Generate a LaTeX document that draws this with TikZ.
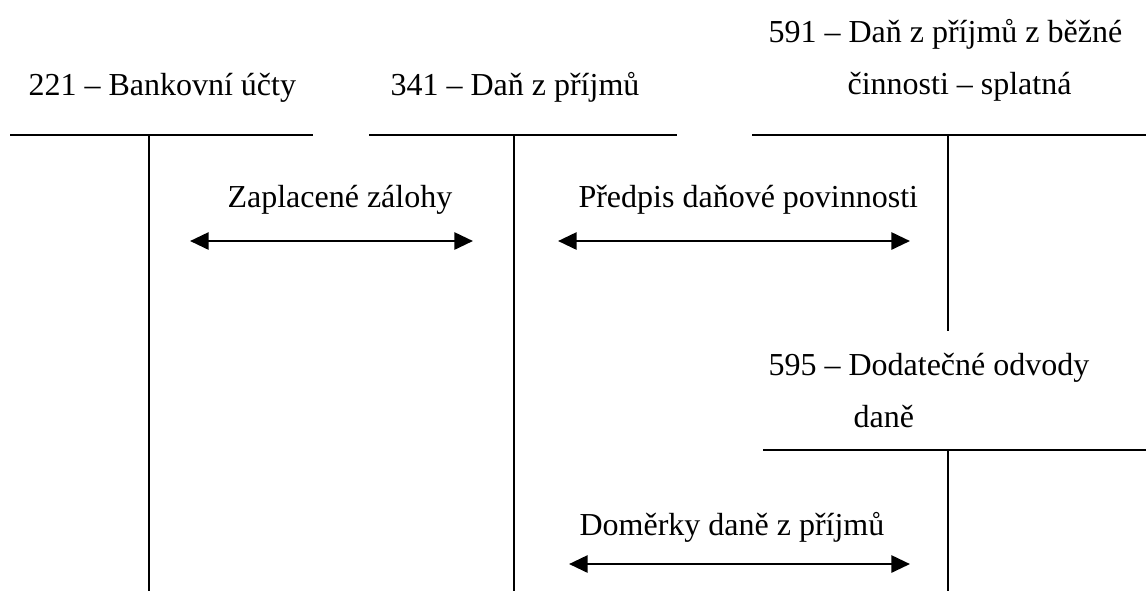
\documentclass[tikz,border=0pt]{standalone}
\usepackage{fontspec}
\setmainfont{Liberation Serif}
\usetikzlibrary{arrows.meta}
\tikzset{
    every node/.style={ % popisky sazene od uchytu na uctarni
        inner sep=0pt,
        anchor=base west,
        font=\fontsize{12}{14}\selectfont
    },
    ucet/.style={ % cary T-uctu
        line width=0.75pt
    },
    pohyb/.style={ % obousmerna sipka mezi ucty
        line width=1pt,
        {Triangle[length=7pt,width=6.4pt]}-{Triangle[length=7pt,width=6.4pt]}
    }
}

\begin{document}
\begin{tikzpicture}[x=0.375pt, y=-0.375pt]
        \useasboundingbox (0,0) rectangle (1146,591);
        % ucet 221
        \node (u221)  at (28,95)   {221 – Bankovní účty};
        \coordinate (u221l) at (10,135);
        \coordinate (u221r) at (313,135);
        \coordinate (u221h) at (149,135);
        \coordinate (u221d) at (149,591);
        % ucet 341
        \node (u341)  at (390,95)  {341 – Daň z příjmů};
        \coordinate (u341l) at (369,135);
        \coordinate (u341r) at (677,135);
        \coordinate (u341h) at (514,135);
        \coordinate (u341d) at (514,591);
        % ucet 591
        \node (u591a) at (768,42)  {591 – Daň z příjmů z běžné};
        \node (u591b) at (847,94)  {činnosti – splatná};
        \coordinate (u591l) at (752,135);
        \coordinate (u591r) at (1146,135);
        \coordinate (u591h) at (948,135);
        \coordinate (u591d) at (948,331);
        % ucet 595
        \node (u595a) at (768,375) {595 – Dodatečné odvody};
        \node (u595b) at (853,427) {daně};
        \coordinate (u595l) at (763,450);
        \coordinate (u595r) at (1146,450);
        \coordinate (u595h) at (948,450);
        \coordinate (u595d) at (948,591);

        \draw[ucet] (u221l) -- (u221r)  (u221h) -- (u221d);
        \draw[ucet] (u341l) -- (u341r)  (u341h) -- (u341d);
        \draw[ucet] (u591l) -- (u591r)  (u591h) -- (u591d);
        \draw[ucet] (u595l) -- (u595r)  (u595h) -- (u595d);

        % pohyby
        \node (zal)  at (227,207) {Zaplacené zálohy};
        \coordinate (zal1) at (190,241);
        \coordinate (zal2) at (473,241);
        \node (pred) at (578,207) {Předpis daňové povinnosti};
        \coordinate (pred1) at (558,241);
        \coordinate (pred2) at (910,241);
        \node (dom)  at (579,535) {Doměrky daně z příjmů};
        \coordinate (dom1) at (569,564);
        \coordinate (dom2) at (910,564);

        \draw[pohyb] (zal1)  -- (zal2);
        \draw[pohyb] (pred1) -- (pred2);
        \draw[pohyb] (dom1)  -- (dom2);
\end{tikzpicture}
\end{document}
